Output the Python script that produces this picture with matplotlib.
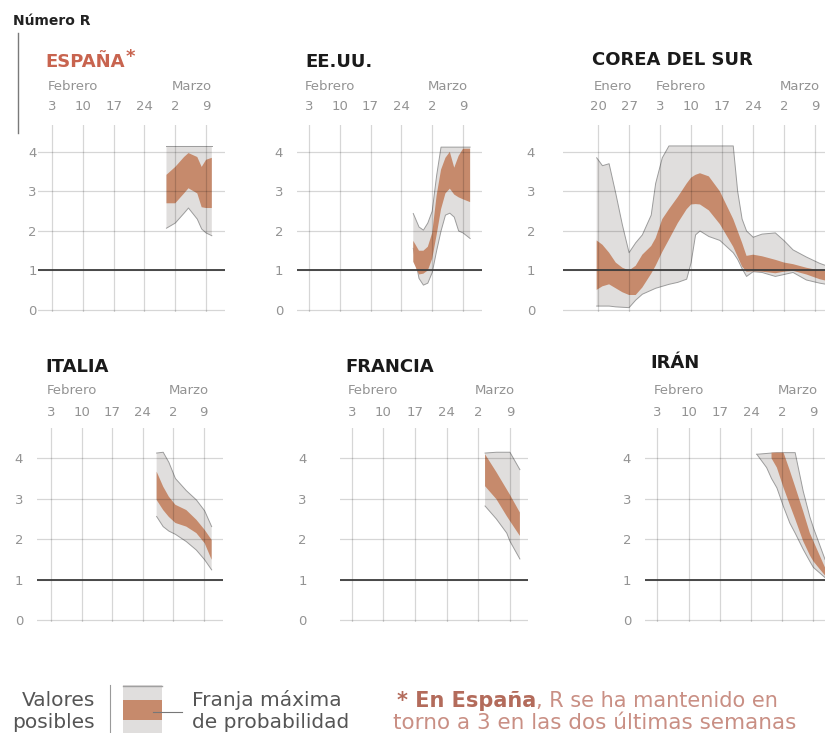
import numpy as np
import matplotlib
matplotlib.use('Agg')
import matplotlib.pyplot as plt
import matplotlib.transforms as mtransforms
from matplotlib.patches import Rectangle

plt.rcParams['font.family'] = ['DejaVu Sans']

# dias desde el 3 de febrero (Corea: desde el 20 de enero)
fechas = [3, 10, 17, 24, 2, 9]
meses = ['Febrero', 'Marzo']
meses_pos = [0, 4]
fechas_corea = [20, 27, 3, 10, 17, 24, 2, 9]
meses_corea = ['Enero', 'Febrero', 'Marzo']
meses_corea_pos = [0, 2, 6]
valores_r = [0, 1, 2, 3, 4]

esp_dias = [26, 28, 30, 31, 33, 34, 35, 36.3]
esp_gris_sup = [4.15, 4.15, 4.15, 4.15, 4.15, 4.15, 4.15, 4.15]
esp_gris_inf = [2.07, 2.2, 2.45, 2.58, 2.3, 2.05, 1.95, 1.88]
esp_franja_sup = [3.42, 3.62, 3.87, 3.97, 3.87, 3.62, 3.8, 3.85]
esp_franja_inf = [2.7, 2.7, 2.95, 3.08, 2.95, 2.6, 2.58, 2.58]

eeuu_dias = [23.7, 25, 26, 27, 28, 29, 30, 31, 32, 33, 34, 35, 36.6]
eeuu_gris_sup = [2.44, 2.1, 2.02, 2.2, 2.5, 3.4, 4.12, 4.12, 4.12, 4.12, 4.12, 4.12, 4.12]
eeuu_gris_inf = [1.56, 0.8, 0.63, 0.68, 0.95, 1.5, 2.0, 2.4, 2.45, 2.35, 2.0, 1.95, 1.81]
eeuu_franja_sup = [1.75, 1.5, 1.5, 1.6, 1.95, 2.9, 3.55, 3.85, 4.0, 3.6, 3.9, 4.08, 4.08]
eeuu_franja_inf = [1.22, 0.9, 0.92, 1.0, 1.3, 1.9, 2.55, 2.95, 3.07, 2.92, 2.85, 2.8, 2.73]

cor_dias = [-0.3, 1, 2.5, 4, 5.5, 7, 8.5, 10, 12, 13, 14.5, 16, 18, 20, 21, 22,
            23, 25, 27.5, 30.5, 31.5, 32.5, 33.5, 35, 37, 40, 42, 44, 47, 50, 51.5]
cor_gris_sup = [3.85, 3.65, 3.7, 2.95, 2.15, 1.45, 1.7, 1.9, 2.4, 3.2, 3.85, 4.15, 4.15,
                4.15, 4.15, 4.15, 4.15, 4.15, 4.15, 4.15, 3.0, 2.3, 2.0, 1.84, 1.92, 1.95,
                1.75, 1.52, 1.34, 1.18, 1.12]
cor_gris_inf = [0.1, 0.1, 0.1, 0.08, 0.07, 0.06, 0.25, 0.4, 0.5, 0.55, 0.6, 0.65, 0.7,
                0.78, 1.2, 1.9, 2.0, 1.86, 1.76, 1.45, 1.28, 1.05, 0.85, 0.97, 0.95, 0.85,
                0.9, 0.95, 0.76, 0.68, 0.65]
cor_franja_sup = [1.76, 1.65, 1.45, 1.2, 1.07, 1.0, 1.12, 1.4, 1.62, 1.82, 2.3, 2.55, 2.86,
                  3.2, 3.35, 3.42, 3.46, 3.38, 3.0, 2.3, 2.0, 1.7, 1.37, 1.4, 1.36, 1.27,
                  1.2, 1.16, 1.07, 1.0, 0.98]
cor_franja_inf = [0.51, 0.6, 0.65, 0.55, 0.45, 0.38, 0.38, 0.57, 0.92, 1.12, 1.47, 1.78,
                  2.2, 2.55, 2.67, 2.68, 2.67, 2.52, 2.17, 1.6, 1.35, 1.1, 0.97, 0.98, 0.97,
                  0.93, 0.97, 0.99, 0.9, 0.78, 0.74]

ita_dias = [24.2, 25.7, 27, 28.5, 31, 33.3, 35.2, 36.8]
ita_gris_sup = [4.13, 4.15, 3.9, 3.5, 3.2, 2.97, 2.7, 2.31]
ita_gris_inf = [2.56, 2.31, 2.2, 2.12, 1.94, 1.73, 1.49, 1.24]
ita_franja_sup = [3.67, 3.3, 3.05, 2.85, 2.72, 2.48, 2.23, 1.98]
ita_franja_inf = [2.97, 2.72, 2.55, 2.4, 2.31, 2.15, 1.9, 1.49]

fra_dias = [29.5, 32, 34.3, 35, 37.2]
fra_gris_sup = [4.13, 4.15, 4.15, 4.15, 3.72]
fra_gris_inf = [2.82, 2.5, 2.15, 1.95, 1.51]
fra_franja_sup = [4.1, 3.66, 3.23, 3.1, 2.66]
fra_franja_inf = [3.31, 2.99, 2.57, 2.45, 2.08]

iran_dias = [22.3, 24.5, 25.6, 26.8, 28.3, 29.7, 30.9, 32.7, 34.2, 35, 37.6]
iran_gris_sup = [4.1, 4.12, 4.13, 4.14, 4.14, 4.14, 4.14, 3.19, 2.55, 2.28, 1.5]
iran_gris_inf = [4.1, 3.77, 3.5, 3.27, 2.8, 2.4, 2.15, 1.75, 1.45, 1.3, 1.05]
iran_franja_sup = [np.nan, np.nan, 4.14, 4.14, 4.14, 3.7, 3.3, 2.69, 2.15, 1.95, 1.3]
iran_franja_inf = [np.nan, np.nan, 4.0, 3.77, 3.27, 2.85, 2.5, 1.95, 1.6, 1.45, 1.1]

GRIS = '#e0dedd'
BORDE = '#9c9c9c'
MARRON = '#c68a6c'
ROJO = '#c8644f'
TXT = '#939393'

W, H = 825, 733
fig = plt.figure(figsize=(W / 100, H / 100), dpi=100)

# fila: (y arriba px, y abajo px, ylim, pad fechas, y meses px)
filas = {1: (125, 312, (-0.05, 4.68), 8.3, 86),
         2: (428, 622, (-0.05, 4.75), 6.8, 390)}

# titulo, datos, x px, fila, xlim, pad eje y, titulo px (x, base)
paneles = [
    ('ESPAÑA', (esp_dias, esp_gris_inf, esp_gris_sup, esp_franja_inf, esp_franja_sup),
     (38, 225), 1, (-3.2, 39.3), 1, (45, 67), False),
    ('EE.UU.', (eeuu_dias, eeuu_gris_inf, eeuu_gris_sup, eeuu_franja_inf, eeuu_franja_sup),
     (297, 482), 1, (-2.7, 39.3), 10, (305, 67), False),
    ('COREA DEL SUR', (cor_dias, cor_gris_inf, cor_gris_sup, cor_franja_inf, cor_franja_sup),
     (563, 825), 1, (-7.9, 51.2), 20, (592, 65), True),
    ('ITALIA', (ita_dias, ita_gris_inf, ita_gris_sup, ita_franja_inf, ita_franja_sup),
     (37, 223), 2, (-3.2, 39.4), 10, (45, 372), False),
    ('FRANCIA', (fra_dias, fra_gris_inf, fra_gris_sup, fra_franja_inf, fra_franja_sup),
     (340, 528), 2, (-2.6, 39.0), 24, (345, 372), False),
    ('IRÁN', (iran_dias, iran_gris_inf, iran_gris_sup, iran_franja_inf, iran_franja_sup),
     (645, 825), 2, (-2.8, 37.6), 10, (650, 368), False),
]

fondo = fig.add_axes([0, 0, 1, 1])
fondo.set_xlim(0, W)
fondo.set_ylim(H, 0)
fondo.axis('off')

for titulo, datos, (x0, x1), fila, xlim, pad_y, (tx, ty), corea in paneles:
    y0, y1, ylim, pad_x, y_mes = filas[fila]
    ax = fig.add_axes([x0 / W, 1 - y1 / H, (x1 - x0) / W, (y1 - y0) / H])
    ax.patch.set_alpha(0)
    ax.set_xlim(xlim)
    ax.set_ylim(ylim)
    dias, g_inf, g_sup, f_inf, f_sup = [np.array(v, dtype=float) for v in datos]
    ax.fill_between(dias, g_inf, g_sup, facecolor=GRIS, edgecolor='none', zorder=1)
    ax.plot(dias, g_inf, color=BORDE, lw=0.7, zorder=1.5)
    ax.plot(dias, g_sup, color=BORDE, lw=0.7, zorder=1.5)
    ax.fill_between(dias, f_inf, f_sup, facecolor=MARRON, edgecolor='none', zorder=2)

    etiquetas = fechas_corea if corea else fechas
    nombres = meses_corea if corea else meses
    nombres_pos = meses_corea_pos if corea else meses_pos
    pos = np.arange(len(etiquetas)) * 7
    ax.set_xticks(pos)
    ax.set_xticklabels([str(f) for f in etiquetas])
    ax.xaxis.set_ticks_position('top')
    ax.set_yticks(valores_r)
    ax.set_yticklabels([str(v) for v in valores_r])
    ax.tick_params(length=0, labelsize=9.5, labelcolor=TXT)
    ax.tick_params(axis='x', pad=pad_x)
    ax.tick_params(axis='y', pad=pad_y)
    ax.grid(True, color='black', alpha=0.16, lw=0.9)
    ax.set_axisbelow(False)
    ax.axhline(1, color='#3c3c3c', lw=1.3, zorder=4)
    for s in ax.spines.values():
        s.set_visible(False)

    trans = mtransforms.blended_transform_factory(ax.transData, fig.transFigure)
    trans = mtransforms.offset_copy(trans, fig=fig, x=-4, y=0, units='dots')
    for nombre, i in zip(nombres, nombres_pos):
        ax.text(pos[i], 1 - y_mes / H, nombre, transform=trans, ha='left', va='center',
                fontsize=9.5, color=TXT)

    fondo.text(tx, ty, titulo, fontsize=13, fontweight='bold', va='baseline', ha='left',
               color=ROJO if titulo == 'ESPAÑA' else '#1a1a1a')

fondo.text(126, 57, '*', fontsize=13, fontweight='bold', color=ROJO, va='center')
fondo.text(13, 21, 'Número R', fontsize=10, fontweight='bold', color='#222222', va='center')
fondo.plot([18, 18], [33, 133], color='#7a7a7a', lw=1)

# leyenda
fondo.text(95, 700, 'Valores', fontsize=14.5, color='#555555', ha='right', va='center')
fondo.text(95, 722, 'posibles', fontsize=14.5, color='#555555', ha='right', va='center')
fondo.plot([110, 110], [685, 733], color='#9a9a9a', lw=0.8)
fondo.add_patch(Rectangle((123, 685), 39, 48, facecolor=GRIS, edgecolor='none'))
fondo.add_patch(Rectangle((123, 700), 39, 20, facecolor=MARRON, edgecolor='none'))
fondo.plot([123, 162], [686, 686], color='#a0a0a0', lw=1)
fondo.plot([153, 182], [712, 712], color='#777777', lw=0.8)
fondo.text(192, 700, 'Franja máxima', fontsize=14.5, color='#555555', ha='left', va='center')
fondo.text(192, 722, 'de probabilidad', fontsize=14.5, color='#555555', ha='left', va='center')

t1 = fondo.text(397, 711, '* En España', fontsize=15, fontweight='bold', color='#b36b5b',
                ha='left', va='bottom')
fondo.annotate(', R se ha mantenido en', xy=(1, 0), xycoords=t1, fontsize=15,
               color='#c98f84', ha='left', va='bottom')
fondo.text(393, 733, 'torno a 3 en las dos últimas semanas', fontsize=15.5, color='#c98f84',
           ha='left', va='bottom')

fig.savefig('out.png', dpi=100)
